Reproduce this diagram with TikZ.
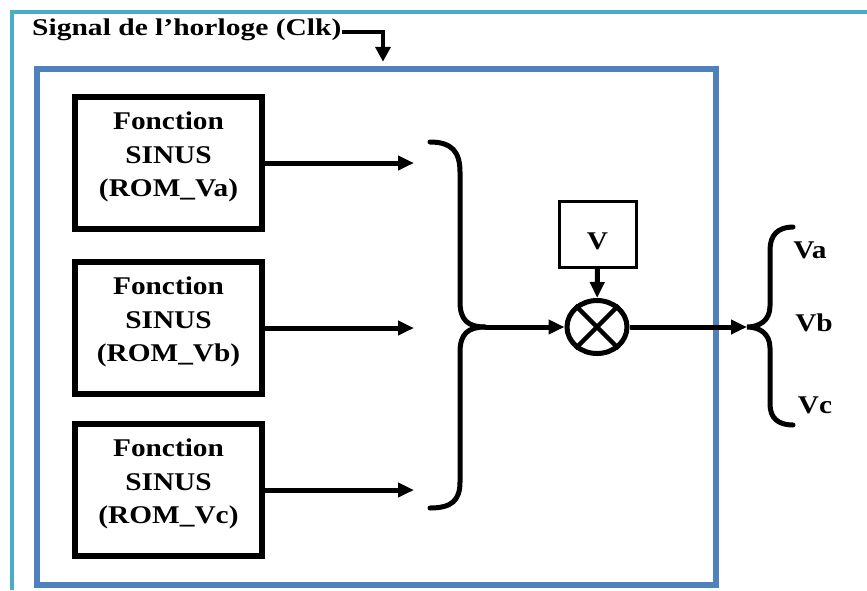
\documentclass[tikz,border=0pt]{standalone}
\usepackage{fontspec}
\setmainfont{Liberation Serif}
\usetikzlibrary{arrows.meta,shapes.geometric}
\definecolor{frameteal}{RGB}{75,172,198}
\definecolor{sysblue}{RGB}{79,129,189}
% bold text drawn slightly wider than the font's natural shape
\newcommand\wide[1]{\scalebox{1.15}[1]{#1}}
\begin{document}
\begin{tikzpicture}[x=1pt,y=-1pt,
  rom/.style={draw, line width=5.5pt, minimum width=187pt, minimum height=132pt,
    inner sep=0pt, align=center, font=\bfseries\fontsize{25.5}{33.5}\selectfont},
  link/.style={line width=5pt, -{Triangle[length=16pt,width=14pt]}},
  brace/.style={line width=5pt, line cap=round},
  lbl/.style={font=\bfseries\fontsize{25.5}{30}\selectfont, inner sep=0pt}
]
\useasboundingbox (0,0) rectangle (867,590);

% outer frame
\draw[frameteal, line width=4pt] (12,590) -- (12,12) -- (867,12);

% system block
\node[draw=sysblue, line width=5.5pt, minimum width=679pt, minimum height=516pt,
  inner sep=0pt] (sys) at (376.5,327) {};

% clock input
\node[font=\bfseries\fontsize{24}{28}\selectfont, inner sep=0pt, anchor=base west]
  (clk) at (32,35) {\scalebox{1.23}[1]{Signal de l’horloge (Clk)}};
\coordinate (clkx) at (383,0);
\draw[line width=4pt, -{Triangle[length=15pt,width=15pt]}, shorten >=4.5pt]
  (clk.east |- 0,32) -| (sys.north -| clkx);

% sine tables
\node[rom] (ra) at (168.5,163) {\wide{Fonction}\\\wide{SINUS}\\\wide{(ROM\_Va)}\rule[-17pt]{0pt}{0pt}};
\node[rom] (rb) at (168.5,328) {\wide{Fonction}\\\wide{SINUS}\\\wide{(ROM\_Vb)}\rule[-17pt]{0pt}{0pt}};
\node[rom] (rc) at (168.5,490) {\wide{Fonction}\\\wide{SINUS}\\\wide{(ROM\_Vc)}\rule[-17pt]{0pt}{0pt}};

\coordinate (ia) at (414,163);
\coordinate (ib) at (414,328);
\coordinate (ic) at (414,490);
\draw[link] (ra.east) -- (ia);
\draw[link] (rb.east) -- (ib);
\draw[link] (rc.east) -- (ic);

% collecting brace
\coordinate (lt) at (485,327);
\draw[brace] (430,142) .. controls (452,142) and (460,152) .. (460,172) -- (460,302)
  .. controls (460,320) and (468,327) .. (lt);
\draw[brace] (lt) .. controls (468,327) and (460,334) .. (460,352) -- (460,482)
  .. controls (460,500) and (452,508) .. (430,508);

% multiplier and amplitude
\node[draw, ellipse, line width=5pt, minimum width=60pt, minimum height=53pt,
  inner sep=0pt] (mul) at (597,327) {};
\draw[line width=4.5pt] (mul.45) -- (mul.225) (mul.135) -- (mul.315);
\node[draw, line width=3pt, minimum width=77pt, minimum height=66pt, inner sep=0pt,
  font=\bfseries\fontsize{25.5}{30}\selectfont] (amp) at (597.5,234)
  {\rule{0pt}{32pt}\wide{V}};
\draw[link] (lt) -- (mul);
\draw[link] (amp) -- (mul);

% outputs
\coordinate (rt) at (747,327);
\draw[link] (mul) -- (rt);
\draw[brace] (793,227) .. controls (778,227) and (770,235) .. (770,250) -- (770,306)
  .. controls (770,320) and (760,327) .. (rt)
  .. controls (760,327) and (770,334) .. (770,348) -- (770,404)
  .. controls (770,418) and (778,425) .. (793,425);
\node[lbl] (va) at (810,250) {\wide{Va}};
\node[lbl] (vb) at (814,323) {\wide{Vb}};
\node[lbl] (vc) at (815,405) {\wide{Vc}};
\end{tikzpicture}
\end{document}
